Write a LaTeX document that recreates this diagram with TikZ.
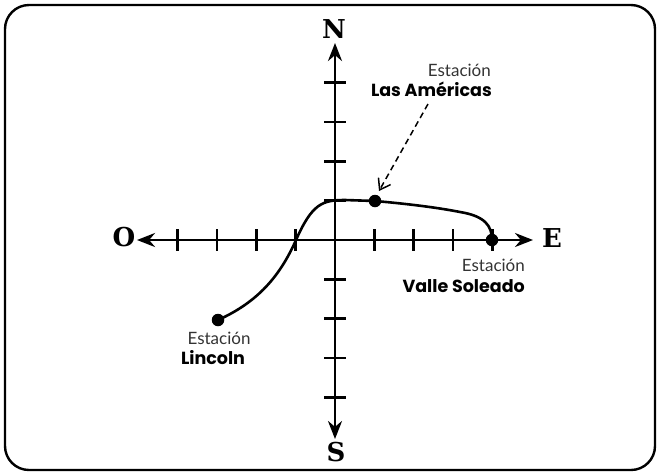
\documentclass[tikz,border=0pt]{standalone}
\usepackage{fontspec}
\setmainfont{Lato}
\newfontfamily\compassfont{DejaVu Serif}
\newfontfamily\boldlbl{Poppins}
\usetikzlibrary{arrows.meta}
\begin{document}
\begin{tikzpicture}[x=1pt,y=-1pt,
  axis/.style={line width=2.7pt,-{Stealth[length=18pt,width=14pt]}},
  tickmark/.style={line width=2.7pt},
  route/.style={line width=2.6pt,line cap=round},
  station/.style={circle,fill=black,inner sep=0pt,minimum size=12.5pt},
  dir/.style={font=\compassfont\bfseries\fontsize{26}{26}\selectfont,inner sep=0pt},
  lbl/.style={font=\fontsize{17}{19}\selectfont,inner sep=0pt,text=black!80},
  lblb/.style={font=\boldlbl\bfseries\fontsize{17.5}{19}\selectfont,inner sep=0pt}]
\useasboundingbox (0,0) rectangle (660,475);
\draw[line width=2.4pt,rounded corners=24pt] (5,5) rectangle (655,470);
% axes
\coordinate (o) at (335,240);
\coordinate (ntip) at (335,43);
\coordinate (stip) at (335,439);
\coordinate (wtip) at (137,240);
\coordinate (etip) at (533,240);
\draw[axis] (o) -- (ntip);
\draw[axis] (o) -- (stip);
\draw[axis] (o) -- (wtip);
\draw[axis] (o) -- (etip);
\foreach \i in {-4,...,-1,1,2,3,4}{
  \draw[tickmark] (335+39.3*\i,229) -- (335+39.3*\i,251);
  \draw[tickmark] (324,240+39.3*\i) -- (346,240+39.3*\i);
}
\node[dir] (N) at (334,29) {N};
\node[dir] (S) at (336,452) {S};
\node[dir] (O) at (124,237) {O};
\node[dir] (E) at (552,238) {E};
% stations
\node[station] (lin) at (218,320) {};
\node[station] (lam) at (375,201) {};
\node[station] (val) at (492,240) {};
\coordinate (c1) at (296,240);
\coordinate (c2) at (460,212);
\draw[route] (lin.center) .. controls (258,302) and (280,276) .. (c1)
  .. controls (312,204) and (322,200) .. (345,200)
  -- (lam.center) .. controls (410,204) and (440,208) .. (c2)
  .. controls (485,216) and (492,226) .. (val.center);
% labels
\node[lbl,anchor=base east] (lamA) at (491,76) {Estación};
\node[lblb,anchor=base east] (lamB) at (492,96) {Las Américas};
\node[lbl,anchor=base east] (valA) at (525,271) {Estación};
\node[lblb,anchor=base east] (valB) at (525,292) {Valle Soleado};
\node[lbl,anchor=base] (linA) at (219,344) {Estación};
\node[lblb,anchor=base] (linB) at (213,364) {Lincoln};
\coordinate (arrstart) at (428,104);
\draw[line width=1.5pt,dash pattern=on 6pt off 4pt,-{Straight Barb[length=10pt,width=14pt,line width=1.5pt]}] (arrstart) -- (379,191);
\end{tikzpicture}
\end{document}
